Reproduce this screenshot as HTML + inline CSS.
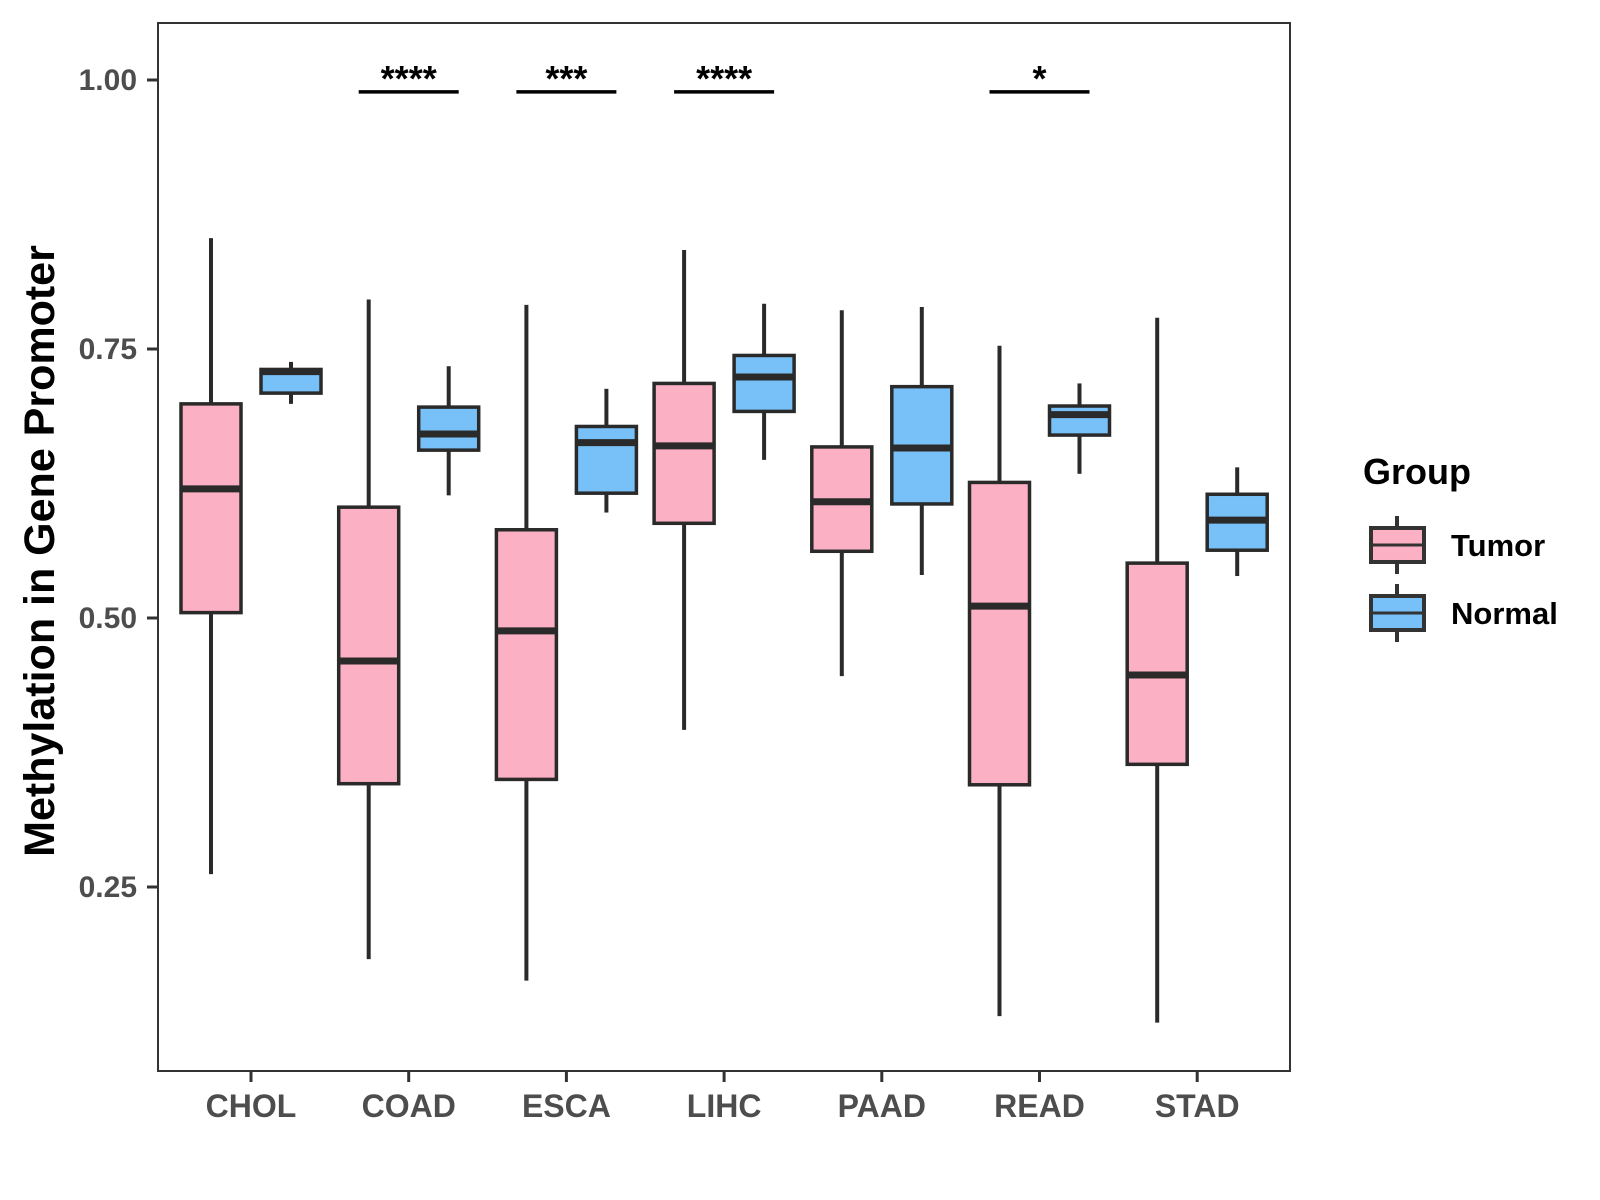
<!DOCTYPE html>
<html><head><meta charset="utf-8"><style>
html,body{margin:0;padding:0;background:#fff;}
svg{display:block;font-family:"Liberation Sans",Arial,sans-serif;}
</style></head><body>
<svg id="chart" width="1600" height="1200" viewBox="0 0 1600 1200">
<rect x="0" y="0" width="1600" height="1200" fill="#fff"/>
<g id="plot"></g>
<rect x="158" y="23" width="1132" height="1048" fill="none" stroke="#333" stroke-width="2"/>
<text transform="translate(54,551) rotate(-90)" text-anchor="middle" font-size="43" font-weight="bold" fill="#000">Methylation in Gene Promoter</text>
<g>
<text x="1363" y="484" font-size="36" font-weight="bold" fill="#000">Group</text>
<g>
<line x1="1397" y1="516" x2="1397" y2="574" stroke="#333" stroke-width="4"/>
<rect x="1371" y="528" width="53" height="34" fill="#FBB0C3" stroke="#333" stroke-width="4"/>
<line x1="1371" y1="545" x2="1424" y2="545" stroke="#333" stroke-width="3"/>
<text x="1451" y="556" font-size="31" font-weight="bold" fill="#000">Tumor</text>
</g>
<g>
<line x1="1397" y1="584" x2="1397" y2="642" stroke="#333" stroke-width="4"/>
<rect x="1371" y="596" width="53" height="34" fill="#77C1F8" stroke="#333" stroke-width="4"/>
<line x1="1371" y1="613" x2="1424" y2="613" stroke="#333" stroke-width="3"/>
<text x="1451" y="624" font-size="31" font-weight="bold" fill="#000">Normal</text>
</g>
</g>
</svg>
<script>
const categories = ["CHOL","COAD","ESCA","LIHC","PAAD","READ","STAD"];
// [lowWhisker, q1, median, q3, highWhisker]
const tumorStats = [
 [0.262,0.505,0.620,0.699,0.853],
 [0.183,0.346,0.460,0.603,0.796],
 [0.163,0.350,0.488,0.582,0.791],
 [0.396,0.588,0.660,0.718,0.842],
 [0.446,0.562,0.608,0.659,0.786],
 [0.130,0.345,0.511,0.626,0.753],
 [0.124,0.364,0.447,0.551,0.779]
];
const normalStats = [
 [0.699,0.709,0.729,0.731,0.738],
 [0.614,0.656,0.671,0.696,0.734],
 [0.598,0.616,0.663,0.678,0.713],
 [0.647,0.692,0.724,0.744,0.792],
 [0.540,0.606,0.658,0.715,0.789],
 [0.634,0.670,0.689,0.697,0.718],
 [0.539,0.563,0.591,0.615,0.640]
];
const yTicks = [0.25,0.50,0.75,1.00];
const yTickLabels = ["0.25","0.50","0.75","1.00"];
const sigCategories = ["COAD","ESCA","LIHC","READ"];
const sigLabels = ["****","***","****","*"];
const sigLevel = 0.989;

const NS="http://www.w3.org/2000/svg";
const plot=document.getElementById('plot');
const svg=document.getElementById('chart');
function yScale(v){return 80+(1-v)*1076;}
function xScale(i){return 251+i*157.7;}
function mk(tag,attrs,parent){const e=document.createElementNS(NS,tag);for(const k in attrs)e.setAttribute(k,attrs[k]);(parent||plot).appendChild(e);return e;}

yTicks.forEach((t,i)=>{
  const y=yScale(t);
  const tk=mk('line',{x1:147,x2:158,y1:y,y2:y,stroke:'#333','stroke-width':3},svg);
  
  
  const tl=mk('text',{x:137,y:y+10,'text-anchor':'end','font-size':30,'font-weight':'bold',fill:'#4d4d4d'},svg);
  tl.textContent=yTickLabels[i];
  
  
});
categories.forEach((c,i)=>{
  const x=xScale(i);
  const tk=mk('line',{x1:x,x2:x,y1:1071,y2:1082,stroke:'#333','stroke-width':3},svg);
  
  
  const tl=mk('text',{x:x,y:1117,'text-anchor':'middle','font-size':32,'font-weight':'bold',fill:'#4d4d4d'},svg);
  tl.textContent=c;
  
  
});
function drawBox(cx,s,fill,name){
  const g=mk('g',{});
  
  
  const w=60;
  mk('line',{x1:cx,x2:cx,y1:yScale(s[0]),y2:yScale(s[1]),stroke:'#2a2a2a','stroke-width':4},g);
  mk('line',{x1:cx,x2:cx,y1:yScale(s[3]),y2:yScale(s[4]),stroke:'#2a2a2a','stroke-width':4},g);
  mk('rect',{x:cx-w/2,y:yScale(s[3]),width:w,height:yScale(s[1])-yScale(s[3]),fill:fill,stroke:'#2a2a2a','stroke-width':3.5},g);
  mk('line',{x1:cx-w/2,x2:cx+w/2,y1:yScale(s[2]),y2:yScale(s[2]),stroke:'#2a2a2a','stroke-width':7},g);
}
categories.forEach((c,i)=>{
  drawBox(xScale(i)-40,tumorStats[i],'#FBB0C3','box-tumor-'+c.toLowerCase());
  drawBox(xScale(i)+40,normalStats[i],'#77C1F8','box-normal-'+c.toLowerCase());
});
sigCategories.forEach((c,j)=>{
  const x=xScale(categories.indexOf(c));
  const y=yScale(sigLevel);
  const l=mk('line',{x1:x-50,x2:x+50,y1:y,y2:y,stroke:'#000','stroke-width':3.5});
  
  
  const t=mk('text',{x:x,y:y-1,'text-anchor':'middle','font-size':36,'font-weight':'bold',fill:'#000'});
  t.textContent=sigLabels[j];
  
  
});
</script>
</body></html>
